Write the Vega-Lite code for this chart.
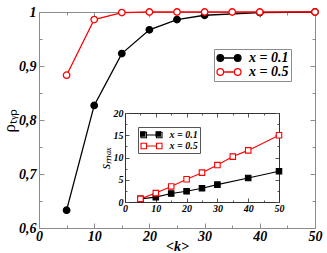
{
  "$schema": "https://vega.github.io/schema/vega-lite/v6.json",
  "width": 276,
  "height": 216,
  "autosize": "none",
  "padding": {"left": 39, "top": 12, "right": 12, "bottom": 25},
  "background": "#ffffff",
  "config": {
    "view": {"stroke": null},
    "axis": {
      "grid": false,
      "domainColor": "#8c8c8c",
      "tickColor": "#8c8c8c",
      "labelFont": "Liberation Serif",
      "labelFontStyle": "italic",
      "labelFontWeight": "bold",
      "labelColor": "#000000",
      "titleFont": "Liberation Serif",
      "titleColor": "#000000"
    }
  },
  "datasets": {
    "main": [
      {"k": 5, "v": 0.633, "s": "x = 0.1"},
      {"k": 10, "v": 0.827, "s": "x = 0.1"},
      {"k": 15, "v": 0.923, "s": "x = 0.1"},
      {"k": 20, "v": 0.967, "s": "x = 0.1"},
      {"k": 25, "v": 0.986, "s": "x = 0.1"},
      {"k": 30, "v": 0.994, "s": "x = 0.1"},
      {"k": 40, "v": 0.999, "s": "x = 0.1"},
      {"k": 50, "v": 1.0, "s": "x = 0.1"},
      {"k": 5, "v": 0.883, "s": "x = 0.5"},
      {"k": 10, "v": 0.986, "s": "x = 0.5"},
      {"k": 15, "v": 0.999, "s": "x = 0.5"},
      {"k": 20, "v": 1.0, "s": "x = 0.5"},
      {"k": 25, "v": 1.0, "s": "x = 0.5"},
      {"k": 30, "v": 1.0, "s": "x = 0.5"},
      {"k": 35, "v": 1.0, "s": "x = 0.5"},
      {"k": 40, "v": 1.0, "s": "x = 0.5"},
      {"k": 50, "v": 1.0, "s": "x = 0.5"}
    ],
    "inset": [
      {"k": 5, "v": 0.7, "s2": "x = 0.1"},
      {"k": 10, "v": 1.1, "s2": "x = 0.1"},
      {"k": 15, "v": 1.9, "s2": "x = 0.1"},
      {"k": 20, "v": 2.4, "s2": "x = 0.1"},
      {"k": 25, "v": 3.1, "s2": "x = 0.1"},
      {"k": 30, "v": 3.9, "s2": "x = 0.1"},
      {"k": 40, "v": 5.4, "s2": "x = 0.1"},
      {"k": 50, "v": 6.9, "s2": "x = 0.1"},
      {"k": 5, "v": 0.7, "s2": "x = 0.5"},
      {"k": 10, "v": 2.0, "s2": "x = 0.5"},
      {"k": 15, "v": 3.5, "s2": "x = 0.5"},
      {"k": 20, "v": 5.1, "s2": "x = 0.5"},
      {"k": 25, "v": 6.6, "s2": "x = 0.5"},
      {"k": 30, "v": 8.3, "s2": "x = 0.5"},
      {"k": 35, "v": 10.2, "s2": "x = 0.5"},
      {"k": 40, "v": 11.6, "s2": "x = 0.5"},
      {"k": 50, "v": 15.0, "s2": "x = 0.5"}
    ]
  },
  "layer": [
    {
      "data": {"name": "main"},
      "encoding": {
        "x": {
          "field": "k", "type": "quantitative",
          "scale": {"domain": [0, 50], "nice": false},
          "axis": {
            "orient": "bottom",
            "values": [0, 5, 10, 15, 20, 25, 30, 35, 40, 45, 50],
            "labelExpr": "datum.value % 10 == 0 ? datum.label : ''",
            "tickSize": {"condition": {"test": "datum.value % 10 == 0", "value": -5}, "value": -3},
            "labelFontSize": 14,
            "labelPadding": 6,
            "labelFlush": false,
            "title": "<k>",
            "titleFontSize": 14,
            "titleFontStyle": "italic",
            "titleFontWeight": "bold",
            "titlePadding": -4
          }
        },
        "y": {
          "field": "v", "type": "quantitative",
          "scale": {"domain": [0.6, 1], "nice": false, "zero": false},
          "axis": {
            "orient": "left",
            "values": [0.6, 0.65, 0.7, 0.75, 0.8, 0.85, 0.9, 0.95, 1.0],
            "labelExpr": "abs(datum.value*10 - round(datum.value*10)) > 0.01 ? '' : (datum.value == 1 ? '1' : replace(format(datum.value, '.1f'), '.', ','))",
            "tickSize": {"condition": {"test": "abs(datum.value*10 - round(datum.value*10)) < 0.01", "value": -5}, "value": -3},
            "labelFontSize": 14,
            "labelPadding": 8,
            "labelFlush": false,
            "title": "ρₜᵧₚ",
            "titleFontSize": 17,
            "titleFontWeight": "normal",
            "titlePadding": 0
          }
        }
      },
      "layer": [
        {
          "mark": {"type": "line", "strokeWidth": 1.3},
          "encoding": {
            "color": {"field": "s", "type": "nominal", "scale": {"range": ["#000000", "#ff0000"]}, "legend": null}
          }
        },
        {
          "mark": {"type": "point", "shape": "circle", "size": 42, "opacity": 1, "strokeWidth": 1.3},
          "encoding": {
            "stroke": {
              "field": "s", "type": "nominal",
              "scale": {"range": ["#000000", "#ff0000"]},
              "legend": {
                "orient": "none", "legendX": 175, "legendY": 37, "title": null,
                "symbolType": "M-0.9,0 L0.9,0 M-2,0 A0.55,0.55 0 1,0 -0.9,0 A0.55,0.55 0 1,0 -2,0 M0.9,0 A0.55,0.55 0 1,0 2,0 A0.55,0.55 0 1,0 0.9,0",
                "symbolSize": 144, "symbolOffset": 6, "symbolStrokeWidth": 1.3, "symbolOpacity": 1, "symbolFillColor": "transparent",
                "labelFont": "Liberation Serif", "labelFontStyle": "italic", "labelFontWeight": "bold",
                "labelFontSize": 14, "labelColor": "#000000", "labelOffset": 13,
                "strokeColor": "#8c8c8c", "padding": 2, "rowPadding": 0
              }
            },
            "fill": {
              "field": "s", "type": "nominal",
              "scale": {"domain": ["x = 0.1", "x = 0.5"], "range": ["#000000", "#ffffff"]},
              "legend": {
                "orient": "none", "legendX": 175, "legendY": 37, "title": null,
                "symbolType": "M-2,0 A0.55,0.55 0 1,0 -0.9,0 A0.55,0.55 0 1,0 -2,0 M0.9,0 A0.55,0.55 0 1,0 2,0 A0.55,0.55 0 1,0 0.9,0",
                "symbolSize": 144, "symbolOffset": 6, "symbolStrokeWidth": 0, "symbolOpacity": 1,
                "labelFont": "Liberation Serif", "labelFontStyle": "italic", "labelFontWeight": "bold",
                "labelFontSize": 14, "labelExpr": "''", "labelOffset": 13,
                "padding": 2, "rowPadding": 0
              }
            }
          }
        }
      ]
    },
    {
      "data": {"name": "main"},
      "mark": {"type": "point", "opacity": 0},
      "encoding": {
        "x": {
          "field": "k", "type": "quantitative",
          "scale": {"domain": [0, 50], "nice": false},
          "axis": {
            "orient": "top", "labels": false, "title": null,
            "values": [0, 5, 10, 15, 20, 25, 30, 35, 40, 45, 50],
            "tickSize": {"condition": {"test": "datum.value % 10 == 0", "value": -5}, "value": -3}
          }
        },
        "y": {
          "field": "v", "type": "quantitative",
          "scale": {"domain": [0.6, 1], "nice": false, "zero": false},
          "axis": {
            "orient": "right", "labels": false, "title": null,
            "values": [0.6, 0.65, 0.7, 0.75, 0.8, 0.85, 0.9, 0.95, 1.0],
            "tickSize": {"condition": {"test": "abs(datum.value*10 - round(datum.value*10)) < 0.01", "value": -5}, "value": -3}
          }
        }
      }
    },
    {
      "data": {"name": "inset"},
      "encoding": {
        "x": {
          "field": "k", "type": "quantitative",
          "scale": {"domain": [0, 50], "nice": false, "range": [86, 240]},
          "axis": {
            "orient": "bottom", "offset": -26, "title": null,
            "domainColor": "#333333", "tickColor": "#555555",
            "values": [0, 5, 10, 15, 20, 25, 30, 35, 40, 45, 50],
            "labelExpr": "datum.value % 10 == 0 ? datum.label : ''",
            "tickSize": {"condition": {"test": "datum.value % 10 == 0", "value": -4}, "value": -2},
            "labelFontSize": 10, "labelPadding": 5, "labelFlush": false
          }
        },
        "y": {
          "field": "v", "type": "quantitative",
          "scale": {"domain": [0, 20], "nice": false, "range": [190, 101]},
          "axis": {
            "orient": "left", "offset": -86,
            "domainColor": "#333333", "tickColor": "#555555",
            "values": [0, 2.5, 5, 7.5, 10, 12.5, 15, 17.5, 20],
            "labelExpr": "datum.value % 5 == 0 ? datum.label : ''",
            "tickSize": {"condition": {"test": "datum.value % 5 == 0", "value": -4}, "value": -2},
            "labelFontSize": 10, "labelPadding": 6, "labelFlush": false,
            "title": "sₘₐₓ", "titleFontSize": 14, "titleFontWeight": "normal", "titleFontStyle": "italic", "titlePadding": 1
          }
        }
      },
      "layer": [
        {
          "mark": {"type": "line", "strokeWidth": 1.1},
          "encoding": {
            "color": {"field": "s2", "type": "nominal", "scale": {"range": ["#000000", "#ff0000"]}, "legend": null}
          }
        },
        {
          "mark": {"type": "point", "shape": "square", "size": 30, "opacity": 1, "strokeWidth": 1.1},
          "encoding": {
            "stroke": {
              "field": "s2", "type": "nominal",
              "scale": {"range": ["#000000", "#ff0000"]},
              "legend": {
                "orient": "none", "legendX": 99, "legendY": 115, "title": null,
                "symbolType": "M-1,0 L1,0 M-2.1,-0.55 L-1,-0.55 L-1,0.55 L-2.1,0.55 Z M1,-0.55 L2.1,-0.55 L2.1,0.55 L1,0.55 Z",
                "symbolSize": 100, "symbolOffset": 5.5, "symbolStrokeWidth": 1.1, "symbolOpacity": 1, "symbolFillColor": "transparent",
                "labelFont": "Liberation Serif", "labelFontStyle": "italic", "labelFontWeight": "bold",
                "labelFontSize": 10, "labelColor": "#000000", "labelOffset": 12,
                "strokeColor": "#555555", "padding": 2, "rowPadding": 0
              }
            },
            "fill": {
              "field": "s2", "type": "nominal",
              "scale": {"domain": ["x = 0.1", "x = 0.5"], "range": ["#000000", "#ffffff"]},
              "legend": {
                "orient": "none", "legendX": 99, "legendY": 115, "title": null,
                "symbolType": "M-2.1,-0.55 L-1,-0.55 L-1,0.55 L-2.1,0.55 Z M1,-0.55 L2.1,-0.55 L2.1,0.55 L1,0.55 Z",
                "symbolSize": 100, "symbolOffset": 5.5, "symbolStrokeWidth": 0, "symbolOpacity": 1,
                "labelFont": "Liberation Serif", "labelFontStyle": "italic", "labelFontWeight": "bold",
                "labelFontSize": 10, "labelExpr": "''", "labelOffset": 12,
                "padding": 2, "rowPadding": 0
              }
            }
          }
        }
      ]
    },
    {
      "data": {"name": "inset"},
      "mark": {"type": "point", "opacity": 0},
      "encoding": {
        "x": {
          "field": "k", "type": "quantitative",
          "scale": {"domain": [0, 50], "nice": false, "range": [86, 240]},
          "axis": {
            "orient": "top", "offset": -101, "labels": false, "title": null,
            "domainColor": "#333333", "tickColor": "#555555",
            "values": [0, 5, 10, 15, 20, 25, 30, 35, 40, 45, 50],
            "tickSize": {"condition": {"test": "datum.value % 10 == 0", "value": -4}, "value": -2}
          }
        },
        "y": {
          "field": "v", "type": "quantitative",
          "scale": {"domain": [0, 20], "nice": false, "range": [190, 101]},
          "axis": {
            "orient": "right", "offset": -36, "labels": false, "title": null,
            "domainColor": "#333333", "tickColor": "#555555",
            "values": [0, 2.5, 5, 7.5, 10, 12.5, 15, 17.5, 20],
            "tickSize": {"condition": {"test": "datum.value % 5 == 0", "value": -4}, "value": -2}
          }
        }
      }
    }
  ],
  "resolve": {
    "scale": {"x": "independent", "y": "independent", "color": "independent", "stroke": "independent", "fill": "independent"},
    "axis": {"x": "independent", "y": "independent"},
    "legend": {"color": "independent", "stroke": "independent", "fill": "independent"}
  }
}
